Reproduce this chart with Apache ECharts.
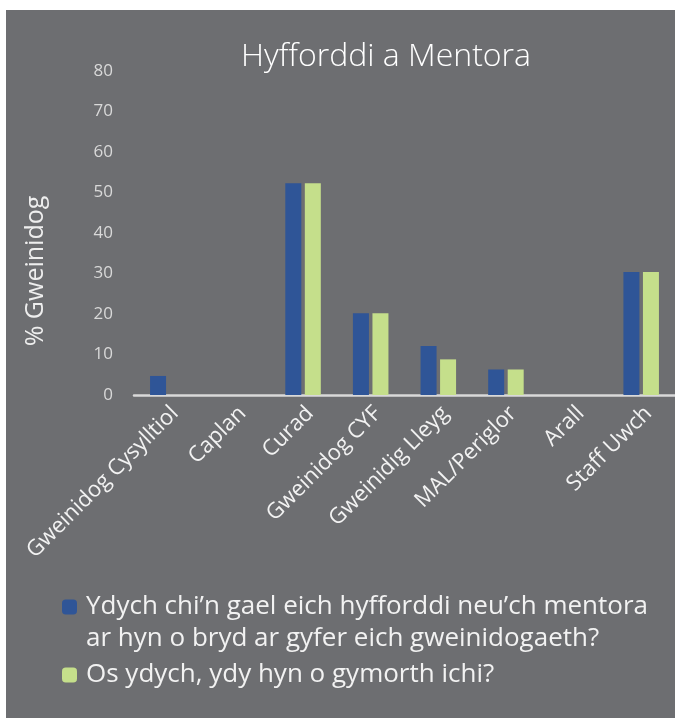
<!DOCTYPE html>
<html>
<head>
<meta charset="utf-8">
<script src="https://cdn.jsdelivr.net/npm/echarts@6/dist/echarts.min.js"></script>
<style>
html,body{margin:0;padding:0;background:#ffffff;width:675px;height:718px;overflow:hidden;}
#c{position:absolute;left:6px;top:10px;width:669px;height:708px;background:#6d6e71;}
</style>
</head>
<body>
<div id="c"></div>
<script>
const titleText = 'Hyfforddi a Mentora';
const yAxisName = '% Gweinidog';
const categories = ['Gweinidog Cysylltiol','Caplan','Curad','Gweinidog CYF','Gweinidig Lleyg','MAL/Periglor','Arall','Staff Uwch'];
const seriesNames = ['Ydych chi\u2019n gael eich hyfforddi neu\u2019ch mentora ar hyn o bryd ar gyfer eich gweinidogaeth?', 'Os ydych, ydy hyn o gymorth ichi?'];
const legendLines1 = ['Ydych chi\u2019n gael eich hyfforddi neu\u2019ch mentora', 'ar hyn o bryd ar gyfer eich gweinidogaeth?'];
const mentoredValues = [4.7, 0, 52.3, 20.2, 12.1, 6.3, 0, 30.4];
const helpfulValues = [0, 0, 52.3, 20.2, 8.8, 6.3, 0, 30.4];
const yTicks = [0, 10, 20, 30, 40, 50, 60, 70, 80];

const chart = echarts.init(document.getElementById('c'), null, {renderer: 'canvas'});
const fontFam = '"Open Sans", "Noto Sans", sans-serif';
const legendText = {
  color: '#f2f2f2', fontSize: 26, fontFamily: fontFam, lineHeight: 32, padding: [0, 0, 0, 4]
};
chart.setOption({
  backgroundColor: '#6d6e71',
  animation: false,
  textStyle: {fontFamily: fontFam},
  title: {
    text: titleText, left: 230, top: 26,
    textStyle: {color: '#ffffff', fontSize: 32, fontWeight: 300, fontFamily: fontFam}
  },
  legend: [
    {
      data: [seriesNames[0]], left: 51, top: 544, orient: 'vertical',
      itemWidth: 15, itemHeight: 15, padding: 5,
      formatter: function(){ return ' \n' + legendLines1.join('\n'); },
      textStyle: legendText
    },
    {
      data: [seriesNames[1]], left: 51, top: 644, orient: 'vertical',
      itemWidth: 15, itemHeight: 15, padding: 5,
      textStyle: legendText
    }
  ],
  grid: {left: 128, top: 61, width: 544, height: 324, containLabel: false},
  xAxis: {
    type: 'category', data: categories,
    axisLine: {show: true, lineStyle: {color: '#d9d9d9', width: 2.5}},
    axisTick: {show: false},
    axisLabel: {interval: 0, rotate: 45, color: '#f2f2f2', fontSize: 22, margin: 22, padding: [0, -10, 0, 0], fontFamily: fontFam},
    splitLine: {show: false}
  },
  yAxis: {
    type: 'value', min: yTicks[0], max: yTicks[yTicks.length - 1], interval: 10,
    name: yAxisName, nameLocation: 'middle', nameGap: 86,
    nameTextStyle: {color: '#eeeeee', fontSize: 25, fontFamily: fontFam, padding: [0, 76, 0, 0]},
    axisLine: {show: false}, axisTick: {show: false},
    splitLine: {show: false},
    axisLabel: {color: '#d9d9d9', fontSize: 17, margin: 21, fontFamily: fontFam}
  },
  series: [
    {
      name: seriesNames[0], type: 'bar', data: mentoredValues,
      barWidth: 16, barGap: '22%',
      itemStyle: {color: '#2f5597'}
    },
    {
      name: seriesNames[1], type: 'bar', data: helpfulValues,
      barWidth: 16,
      itemStyle: {color: '#c5df8b'}
    }
  ]
});
</script>
</body>
</html>
